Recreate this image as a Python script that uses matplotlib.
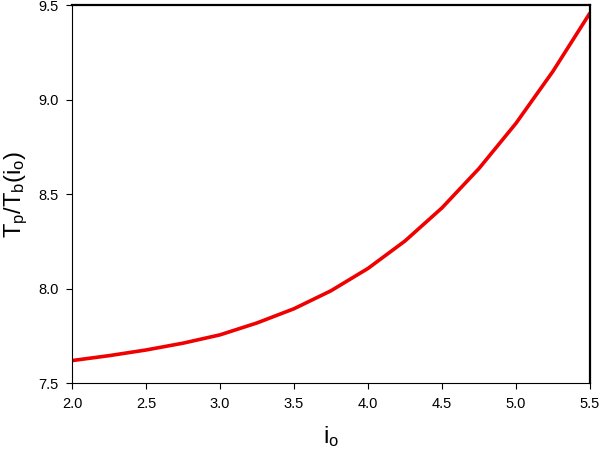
import numpy as np
import matplotlib
matplotlib.use('Agg')
import matplotlib.pyplot as plt

# values
io_vals = [2.0, 2.25, 2.5, 2.75, 3.0, 3.25, 3.5, 3.75, 4.0, 4.25, 4.5, 4.75, 5.0, 5.25, 5.5]
ratio_vals = [7.621, 7.647, 7.677, 7.713, 7.757, 7.820, 7.895, 7.990, 8.108,
              8.253, 8.428, 8.636, 8.875, 9.150, 9.458]

x_ticks = [2.0, 2.5, 3.0, 3.5, 4.0, 4.5, 5.0, 5.5]
y_ticks = [7.5, 8.0, 8.5, 9.0, 9.5]

plt.rcParams['font.family'] = ['Liberation Sans', 'DejaVu Sans']
plt.rcParams['mathtext.fontset'] = 'custom'
plt.rcParams['mathtext.rm'] = 'Liberation Sans'

fig = plt.figure(figsize=(6.0, 4.51), dpi=100)
ax = fig.add_axes([0.12, 0.1497, 0.8633, 0.8392])

ax.plot(io_vals, ratio_vals, color='#f00000', lw=2.6, solid_capstyle='butt')

ax.set_xlim(2.0, 5.5)
ax.set_ylim(7.5, 9.5)
ax.set_xticks(x_ticks)
ax.set_yticks(y_ticks)
ax.set_xticklabels([f'{v:.1f}' for v in x_ticks])
ax.set_yticklabels([f'{v:.1f}' for v in y_ticks])
ax.tick_params(axis='both', direction='out', length=4.5, width=0.8, labelsize=10.5)
ax.tick_params(axis='y', pad=5)
ax.tick_params(axis='x', pad=5)

for side in ['left', 'bottom']:
    ax.spines[side].set_linewidth(0.8)
for side in ['top', 'right']:
    ax.spines[side].set_linewidth(1.6)

ax.set_xlabel(r'$\mathregular{i_o}$', fontsize=17, labelpad=10)
ax.set_ylabel(r'$\mathregular{T_p/T_b(i_o)}$', fontsize=17, labelpad=6)

fig.savefig('out.png', dpi=100)
